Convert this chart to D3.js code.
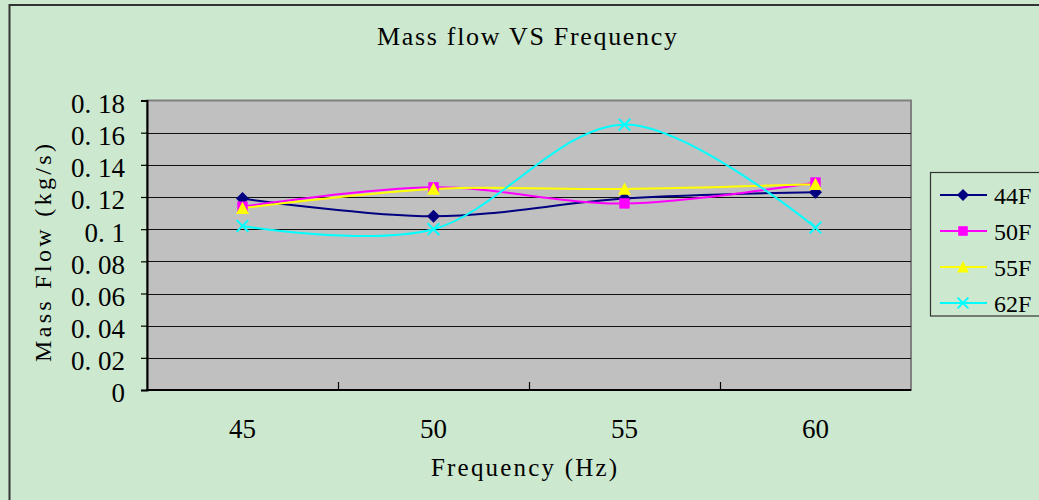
<!DOCTYPE html>
<html>
<head>
<meta charset="utf-8">
<script src="https://cdn.jsdelivr.net/npm/d3@7"></script>
<style>
  html, body { margin: 0; padding: 0; background: #cce8cf; overflow: hidden; }
  svg { display: block; }
  text { font-family: "Liberation Serif", "DejaVu Serif", serif; fill: #000; }
</style>
</head>
<body>
<svg id="chart"></svg>
<script>
// frequencies on the x axis (Hz)
const categories = ['45', '50', '55', '60'];

// mass flow per condenser temperature (kg/s)
const seriesNames = ['44F', '50F', '55F', '62F'];
const flow44 = [0.119, 0.108, 0.119, 0.123];
const flow50 = [0.114, 0.126, 0.116, 0.129];
const flow55 = [0.113, 0.125, 0.125, 0.128];
const flow62 = [0.102, 0.100, 0.165, 0.101];

const yTicks = [0, 0.02, 0.04, 0.06, 0.08, 0.1, 0.12, 0.14, 0.16, 0.18];

const colors = ['#000080', '#ff00ff', '#ffff00', '#00ffff'];
const markers = ['diamond', 'square', 'triangle', 'cross'];

const W = 1039, H = 500;
const plot = { left: 147, right: 911, top: 100.5, bottom: 390 };

const svg = d3.select('#chart').attr('width', W).attr('height', H);

// chart frame
svg.append('rect')
  .attr('x', 9.5).attr('y', 5)
  .attr('width', 1100).attr('height', 600)
  .attr('fill', '#cce8cf')
  .attr('stroke', '#333').attr('stroke-width', 2);

const x = d3.scaleBand()
  .domain(categories)
  .range([plot.left, plot.right])
  .paddingInner(0).paddingOuter(0);
const cx = d => x(d) + x.bandwidth() / 2;

const y = d3.scaleLinear()
  .domain([0, 0.18])
  .range([plot.bottom, plot.top]);

// plot area
svg.append('rect')
  .attr('x', plot.left).attr('y', plot.top)
  .attr('width', plot.right - plot.left).attr('height', plot.bottom - plot.top)
  .attr('fill', '#c0c0c0')
  .attr('stroke', '#808080').attr('stroke-width', 2);

// gridlines
svg.append('g')
  .selectAll('line')
  .data(yTicks.filter(t => t > 0 && t < 0.18))
  .enter().append('line')
  .attr('x1', plot.left).attr('x2', plot.right)
  .attr('y1', d => Math.round(y(d)) + 0.5).attr('y2', d => Math.round(y(d)) + 0.5)
  .attr('stroke', '#111').attr('stroke-width', 1.2);

// y axis
const yAxis = svg.append('g')
  .attr('transform', `translate(${plot.left},0)`)
  .call(d3.axisLeft(y).tickValues(yTicks).tickSize(6).tickPadding(16)
    .tickFormat(d => String(d).replace('.', '. ')));
yAxis.select('.domain').attr('stroke', '#000').attr('stroke-width', 2);
yAxis.selectAll('.tick line').attr('stroke', '#000').attr('stroke-width', 1.2);
yAxis.selectAll('text')
  .attr('font-family', '"Liberation Serif", serif')
  .attr('font-size', 27)
  .attr('dy', '0.44em')
  .attr('fill', '#000');

// x axis: labels under band centres, ticks on band edges
const xAxis = svg.append('g')
  .attr('transform', `translate(0,${plot.bottom})`)
  .call(d3.axisBottom(x).tickSize(0).tickPadding(48));
xAxis.select('.domain').remove();
xAxis.selectAll('text')
  .attr('font-family', '"Liberation Serif", serif')
  .attr('font-size', 27)
  .attr('dy', 0)
  .attr('fill', '#000');

svg.append('line')
  .attr('x1', plot.left - 1).attr('x2', plot.right)
  .attr('y1', plot.bottom).attr('y2', plot.bottom)
  .attr('stroke', '#000').attr('stroke-width', 2);

svg.append('g')
  .selectAll('line')
  .data(categories.slice(1))
  .enter().append('line')
  .attr('x1', d => Math.round(x(d)) + 0.5).attr('x2', d => Math.round(x(d)) + 0.5)
  .attr('y1', plot.bottom).attr('y2', plot.bottom - 8)
  .attr('stroke', '#000').attr('stroke-width', 1.2);

// series lines, smoothed
const allSeries = [flow44, flow50, flow55, flow62];
const line = d3.line()
  .x((d, i) => cx(categories[i]))
  .y(d => y(d))
  .curve(d3.curveCardinal.tension(0));

svg.append('g')
  .selectAll('path')
  .data(allSeries)
  .enter().append('path')
  .attr('d', d => line(d))
  .attr('fill', 'none')
  .attr('stroke', (d, i) => colors[i])
  .attr('stroke-width', 2);

function drawMarker(g, type, color, px, py, s) {
  if (type === 'diamond') {
    g.append('path')
      .attr('d', `M${px},${py - s}L${px + s},${py}L${px},${py + s}L${px - s},${py}Z`)
      .attr('fill', color);
  } else if (type === 'square') {
    g.append('rect')
      .attr('x', px - s * 0.8).attr('y', py - s * 0.8)
      .attr('width', s * 1.6).attr('height', s * 1.6)
      .attr('fill', color);
  } else if (type === 'triangle') {
    g.append('path')
      .attr('d', `M${px},${py - s}L${px + s},${py + s * 0.9}L${px - s},${py + s * 0.9}Z`)
      .attr('fill', color);
  } else {
    g.append('path')
      .attr('d', `M${px - s * 0.9},${py - s * 0.9}L${px + s * 0.9},${py + s * 0.9}M${px + s * 0.9},${py - s * 0.9}L${px - s * 0.9},${py + s * 0.9}`)
      .attr('stroke', color).attr('stroke-width', 2).attr('fill', 'none');
  }
}

const markerLayer = svg.append('g');
allSeries.forEach((vals, si) => {
  vals.forEach((v, i) => {
    drawMarker(markerLayer, markers[si], colors[si], cx(categories[i]), y(v), 6.5);
  });
});

// titles
svg.append('text')
  .attr('x', 527).attr('y', 45)
  .attr('text-anchor', 'middle')
  .attr('font-size', 26)
  .attr('textLength', 300)
  .text('Mass flow VS Frequency');

svg.append('text')
  .attr('x', 524).attr('y', 476)
  .attr('text-anchor', 'middle')
  .attr('font-size', 25)
  .attr('textLength', 186)
  .text('Frequency (Hz)');

svg.append('text')
  .attr('transform', 'translate(51,253) rotate(-90)')
  .attr('text-anchor', 'middle')
  .attr('font-size', 24)
  .attr('textLength', 218)
  .text('Mass Flow (kg/s)');

// legend
const legend = svg.append('g');
legend.append('rect')
  .attr('x', 930.5).attr('y', 172.5)
  .attr('width', 140).attr('height', 143.5)
  .attr('fill', '#cce8cf')
  .attr('stroke', '#333').attr('stroke-width', 1.2);

seriesNames.forEach((name, i) => {
  const ly = 195 + i * 36;
  legend.append('line')
    .attr('x1', 940).attr('x2', 987)
    .attr('y1', ly).attr('y2', ly)
    .attr('stroke', colors[i]).attr('stroke-width', 2);
  drawMarker(legend, markers[i], colors[i], 963, ly, 6);
  legend.append('text')
    .attr('x', 994).attr('y', ly + 8.5)
    .attr('font-size', 24)
    .text(name);
});
</script>
</body>
</html>
